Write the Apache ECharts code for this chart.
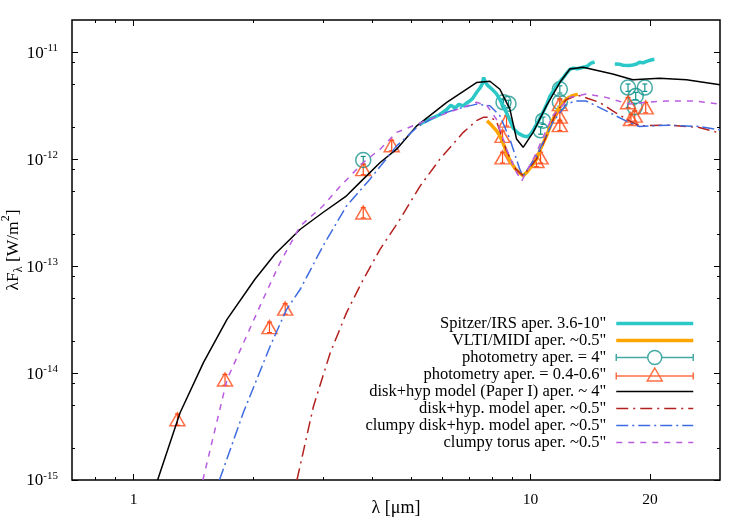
<!DOCTYPE html>
<html>
<head>
<meta charset="utf-8">
<script src="https://cdn.jsdelivr.net/npm/echarts@6/dist/echarts.min.js"></script>
<style>
html, body { margin: 0; padding: 0; background: #fff; }
#chart { width: 750px; height: 525px; }
</style>
</head>
<body>
<div id="chart"></div>
<script>
// wavelength in micron, lambda*F_lambda in units of 1e-12 W/m^2
const Y_EXP = -12;

// Spitzer/IRS spectrum (null = gap)
const irsLam = [5.27, 5.58, 5.9, 6.14, 6.3, 6.45, 6.6, 6.77, 6.9, 7.03, 7.15, 7.31, 7.45, 7.55, 7.62, 7.7, 7.8, 8.0, 8.2, 8.37, 8.55, 8.7, 8.9, 9.04, 9.3, 9.58, 9.8, 9.96, 10.15, 10.35, 10.55, 10.75, 11.0, 11.2, 11.45, 11.6, 11.85, 12.1, 12.3, 12.56, 12.8, 13.1, 13.5, 13.9, 14.2, 14.5, 15.3, 16.3, 16.8, 17.1, 17.7, 18.1, 18.5, 18.8, 19.2, 19.6, 20.1, 20.5];
const irsF   = [2.13, 2.37, 2.6, 2.9, 3.2, 3.0, 3.25, 3.15, 3.35, 3.5, 3.7, 4.2, 4.6, 5.0, 5.8, 5.2, 4.9, 4.5, 4.1, 3.6, 3.1, 2.7, 2.25, 1.95, 1.75, 1.65, 1.62, 1.68, 1.85, 2.1, 2.4, 2.75, 3.3, 3.9, 4.4, 4.8, 5.3, 5.8, 6.3, 6.9, 7.1, 7.0, 7.2, 7.4, 7.9, 8.1, null, 7.76, 7.7, 7.55, 7.5, 7.6, 7.76, 8.05, 7.95, 8.2, 8.45, 8.6];

// VLTI/MIDI spectrum
const midiLam = [7.77, 8.0, 8.2, 8.37, 8.55, 8.7, 8.9, 9.16, 9.4, 9.58, 9.8, 10.05, 10.35, 10.65, 10.97, 11.3, 11.6, 11.95, 12.3, 12.7, 13.15];
const midiF   = [2.29, 2.05, 1.85, 1.65, 1.38, 1.15, 0.95, 0.81, 0.74, 0.7, 0.76, 0.86, 1.0, 1.3, 1.65, 2.2, 2.74, 3.2, 3.65, 3.9, 4.06];

// photometry, aperture 4"
const photLam = [3.79, 8.55, 8.8, 10.6, 10.75, 11.85, 11.85, 17.6, 19.4, 18.4, 18.3];
const photF   = [0.98, 3.4, 3.3, 1.86, 2.29, 4.5, 3.4, 4.67, 4.67, 3.9, 3.05];
const photErr = [0.08, 0.25, 0.25, 0.15, 0.18, 0.35, 0.27, 0.37, 0.37, 0.31, 0.24];

// photometry, aperture 0.4-0.6"
const nucLam = [1.29, 1.70, 2.2, 2.41, 3.79, 3.79, 4.47, 8.7, 8.5, 8.5, 10.6, 10.35, 11.85, 11.85, 11.85, 17.6, 19.5, 18.3, 17.9];
const nucF   = [0.0037, 0.0087, 0.0269, 0.040, 0.806, 0.317, 1.35, 2.29, 1.65, 1.04, 1.04, 0.96, 3.27, 2.5, 2.08, 3.4, 3.05, 2.55, 2.37];
const nucErr = [0.00045, 0.001, 0.003, 0.0045, 0.09, 0.035, 0.15, 0.25, 0.18, 0.12, 0.12, 0.11, 0.36, 0.27, 0.23, 0.37, 0.34, 0.28, 0.26];

// disk+hyp model (Paper I), aperture ~4"
const paper1Lam = [1.15, 1.31, 1.5, 1.72, 2.02, 2.27, 2.63, 3.0, 3.44, 3.79, 4.18, 4.6, 5.17, 6.15, 7.31, 7.9, 8.37, 8.87, 9.22, 9.58, 10.15, 10.97, 11.85, 12.56, 13.56, 16.1, 18.1, 21.1, 24.7, 30];
const paper1F   = [0.001, 0.00425, 0.0125, 0.0318, 0.075, 0.129, 0.221, 0.317, 0.454, 0.65, 0.93, 1.24, 2.05, 3.4, 5.2, 5.35, 4.5, 2.94, 1.54, 1.29, 1.78, 3.16, 5.2, 6.96, 7.22, 6.25, 5.53, 5.7, 5.53, 4.97];

// disk+hyp. model, aperture ~0.5"
const diskLam = [2.58, 2.84, 3.13, 3.44, 3.79, 4.18, 4.69, 5.27, 5.91, 6.77, 7.31, 7.6, 7.9, 8.2, 8.7, 9.16, 9.58, 10.35, 10.97, 11.6, 12.3, 13.0, 13.3, 14.9, 16.1, 17.7, 18.8, 22.3, 26.6, 30];
const diskF   = [0.001, 0.0049, 0.0155, 0.0367, 0.075, 0.144, 0.274, 0.56, 1.0, 1.78, 2.29, 2.46, 2.46, 2.29, 1.2, 0.81, 0.7, 1.0, 1.65, 2.74, 3.6, 3.9, 3.92, 3.4, 2.83, 2.29, 2.05, 2.08, 1.98, 1.75];

// clumpy disk+hyp. model, aperture ~0.5"
const clumpyLam = [1.646, 1.89, 2.21, 2.43, 2.63, 3.0, 3.44, 3.94, 4.6, 5.17, 5.8, 6.52, 7.31, 7.9, 8.37, 8.87, 9.39, 9.58, 10.35, 11.37, 12.3, 13.0, 13.8, 15.5, 17.7, 18.8, 22.3, 26.6, 30];
const clumpyF   = [0.001, 0.00425, 0.0179, 0.0394, 0.0607, 0.154, 0.365, 0.65, 1.33, 1.98, 2.55, 2.94, 3.27, 3.16, 2.55, 1.54, 0.806, 0.698, 1.07, 2.2, 3.27, 3.5, 3.5, 2.83, 2.2, 2.02, 2.08, 2.02, 1.88];

// clumpy torus, aperture ~0.5"
const torusLam = [1.495, 1.72, 2.12, 2.34, 2.63, 3.0, 3.32, 3.79, 4.18, 4.6, 5.58, 6.77, 7.31, 7.77, 8.2, 8.7, 9.22, 9.5, 10.25, 11.37, 12.56, 13.8, 15.5, 17.7, 19.6, 22, 25.7, 30];
const torusF   = [0.001, 0.0087, 0.049, 0.108, 0.237, 0.365, 0.56, 0.93, 1.24, 1.78, 2.37, 3.05, 3.4, 3.16, 2.37, 1.24, 0.75, 0.626, 1.07, 2.55, 3.78, 4.06, 3.78, 3.27, 3.4, 3.5, 3.5, 3.27];

// axes
const xRange = [0.7, 30];
const yRange = [0.001, 20];
const xLabelTicks = [1, 10, 20];
const xMinorTicks = [0.8, 0.9, 2, 3, 4, 5, 6, 7, 8, 9];
const yLabelTicks = [0.001, 0.01, 0.1, 1, 10];
const yMinorTicks = [0.002, 0.005, 0.008, 0.02, 0.05, 0.08, 0.2, 0.5, 0.8, 2, 5, 8];

const legendNames = [
    'Spitzer/IRS aper. 3.6-10"',
    'VLTI/MIDI aper. ~0.5"',
    'photometry aper. = 4"',
    'photometry aper. = 0.4-0.6"',
    'disk+hyp model (Paper I) aper. ~ 4"',
    'disk+hyp. model aper. ~0.5"',
    'clumpy disk+hyp. model aper. ~0.5"',
    'clumpy torus aper. ~0.5"'
];

const FONT = 'Liberation Serif';
const teal = '#16958e';
const redOrange = '#ff4b16';

function pairs(lam, f) {
    return lam.map(function (x, i) {
        return [x, f[i] === null ? '-' : f[i]];
    });
}

function errData(lam, f, err) {
    return lam.map(function (x, i) {
        return [x, f[i] - err[i], f[i] + err[i]];
    });
}

function errRender(color) {
    return function (params, api) {
        let x = api.value(0);
        let p1 = api.coord([x, api.value(1)]);
        let p2 = api.coord([x, api.value(2)]);
        let w = 2.5;
        let st = {stroke: color, lineWidth: 1.2};
        return {
            type: 'group',
            children: [
                {type: 'line', shape: {x1: p1[0], y1: p1[1], x2: p2[0], y2: p2[1]}, style: st},
                {type: 'line', shape: {x1: p1[0] - w, y1: p1[1], x2: p1[0] + w, y2: p1[1]}, style: st},
                {type: 'line', shape: {x1: p2[0] - w, y1: p2[1], x2: p2[0] + w, y2: p2[1]}, style: st}
            ]
        };
    };
}

function logAxis(kind, pos, ticks, len) {
    let range = kind === 'x' ? xRange : yRange;
    return {
        type: 'log',
        logBase: 10,
        position: pos,
        min: range[0],
        max: range[1],
        axisLine: {show: false, onZero: false},
        splitLine: {show: false},
        axisTick: {show: true, inside: true, length: len, customValues: ticks, lineStyle: {color: '#000', width: 1}},
        axisLabel: {show: false},
        silent: true
    };
}

let xMain = logAxis('x', 'bottom', xLabelTicks, 6);
xMain.axisLabel = {
    show: true, customValues: xLabelTicks, margin: 12,
    fontFamily: FONT, fontSize: 15.5, color: '#000',
    formatter: function (v) { return String(Math.round(v)); }
};
xMain.name = 'λ [μm]';
xMain.nameLocation = 'middle';
xMain.nameGap = 19;
xMain.nameMoveOverlap = false;
xMain.nameTextStyle = {fontFamily: FONT, fontSize: 18, color: '#000'};

let yMain = logAxis('y', 'left', yLabelTicks, 6);
yMain.axisLabel = {
    show: true, customValues: yLabelTicks, margin: 14,
    formatter: function (v) {
        return '{b|10}{s|' + (Math.round(Math.log10(v)) + Y_EXP) + '}';
    },
    rich: {
        b: {fontFamily: FONT, fontSize: 17, color: '#000', verticalAlign: 'bottom'},
        s: {fontFamily: FONT, fontSize: 11, color: '#000', verticalAlign: 'bottom', padding: [0, 0, 8, 0]}
    }
};
yMain.name = '{t|λF}{sub|λ}{t| [W/m}{sup|2}{t|]}';
yMain.nameLocation = 'middle';
yMain.nameGap = 47;
yMain.nameMoveOverlap = false;
yMain.nameTextStyle = {
    rich: {
        t: {fontFamily: FONT, fontSize: 17.5, color: '#000', verticalAlign: 'bottom', padding: [0, 0, 3, 0]},
        sub: {fontFamily: FONT, fontSize: 12, color: '#000', verticalAlign: 'bottom'},
        sup: {fontFamily: FONT, fontSize: 12, color: '#000', verticalAlign: 'bottom', padding: [0, 0, 13, 0]}
    }
};

// legend icons for the photometry entries: error bar with marker
const circIcon = 'path://M0,3.5L0,10.5M0,7L31.5,7M45.5,7L77,7M77,3.5L77,10.5M31.5,7A7,7,0,1,1,45.5,7A7,7,0,1,1,31.5,7Z';
const triIcon = 'path://M0,4.5L0,11.5M0,8L77,8M77,4.5L77,11.5M38.5,0L46,13L31,13Z';
// line entries: hide the marker that ECharts puts in the middle of a line icon
const noMark = {color: 'rgba(0,0,0,0)', borderWidth: 0};

let option = {
    animation: false,
    backgroundColor: '#fff',
    grid: {
        left: 72, right: 30, top: 20, bottom: 45,
        outerBoundsMode: 'none', containLabel: false,
        show: true, borderColor: '#000', borderWidth: 1.5
    },
    xAxis: [
        xMain,
        logAxis('x', 'bottom', xMinorTicks, 3),
        logAxis('x', 'top', xLabelTicks, 6),
        logAxis('x', 'top', xMinorTicks, 3)
    ],
    yAxis: [
        yMain,
        logAxis('y', 'left', yMinorTicks, 3),
        logAxis('y', 'right', yLabelTicks, 6),
        logAxis('y', 'right', yMinorTicks, 3)
    ],
    legend: {
        orient: 'vertical',
        right: 55,
        top: 315,
        padding: 0,
        align: 'right',
        itemWidth: 77,
        itemHeight: 14,
        itemGap: 0,
        selectedMode: false,
        textStyle: {fontFamily: FONT, fontSize: 16.5, color: '#000', padding: [0, 5, 0, 0]},
        lineStyle: {width: 'inherit'},
        data: [
            {name: legendNames[0], itemStyle: noMark},
            {name: legendNames[1], itemStyle: noMark},
            {name: legendNames[2], icon: circIcon, itemStyle: {color: 'rgba(0,0,0,0)', borderColor: teal, borderWidth: 1.5}},
            {name: legendNames[3], icon: triIcon, itemStyle: {color: 'rgba(0,0,0,0)', borderColor: redOrange, borderWidth: 1.5}},
            {name: legendNames[4], itemStyle: noMark},
            {name: legendNames[5], itemStyle: noMark},
            {name: legendNames[6], itemStyle: noMark},
            {name: legendNames[7], itemStyle: noMark}
        ]
    },
    series: [{
        name: legendNames[0],
        type: 'line',
        data: pairs(irsLam, irsF),
        symbol: 'none',
        lineStyle: {color: '#2cc8c8', width: 3.5},
        itemStyle: {color: '#2cc8c8'}
    }, {
        name: legendNames[1],
        type: 'line',
        data: pairs(midiLam, midiF),
        symbol: 'none',
        lineStyle: {color: '#ffa500', width: 3.5},
        itemStyle: {color: '#ffa500'}
    }, {
        name: legendNames[2],
        type: 'scatter',
        data: pairs(photLam, photF),
        symbol: 'circle',
        symbolSize: 15,
        itemStyle: {color: 'rgba(0,0,0,0)', borderColor: teal, borderWidth: 1.5}
    }, {
        name: 'photErr',
        type: 'custom',
        data: errData(photLam, photF, photErr),
        encode: {x: 0, y: [1, 2]},
        renderItem: errRender(teal),
        silent: true
    }, {
        name: legendNames[3],
        type: 'scatter',
        data: pairs(nucLam, nucF),
        symbol: 'triangle',
        symbolSize: [15, 13],
        itemStyle: {color: 'rgba(0,0,0,0)', borderColor: redOrange, borderWidth: 1.5}
    }, {
        name: 'nucErr',
        type: 'custom',
        data: errData(nucLam, nucF, nucErr),
        encode: {x: 0, y: [1, 2]},
        renderItem: errRender(redOrange),
        silent: true
    }, {
        name: legendNames[4],
        type: 'line',
        data: pairs(paper1Lam, paper1F),
        symbol: 'none',
        lineStyle: {color: '#000', width: 1.5},
        itemStyle: {color: '#000'}
    }, {
        name: legendNames[5],
        type: 'line',
        data: pairs(diskLam, diskF),
        symbol: 'none',
        lineStyle: {color: '#b3201e', width: 1.5, type: [12, 5, 2, 5]},
        itemStyle: {color: '#b3201e'}
    }, {
        name: legendNames[6],
        type: 'line',
        data: pairs(clumpyLam, clumpyF),
        symbol: 'none',
        lineStyle: {color: '#3f6be0', width: 1.5, type: [12, 4, 2, 4]},
        itemStyle: {color: '#3f6be0'}
    }, {
        name: legendNames[7],
        type: 'line',
        data: pairs(torusLam, torusF),
        symbol: 'none',
        lineStyle: {color: '#b85ce0', width: 1.5, type: [6, 6]},
        itemStyle: {color: '#b85ce0'}
    }]
};

let myChart = echarts.init(document.getElementById('chart'), null, {renderer: 'canvas'});
myChart.setOption(option);
</script>
</body>
</html>
